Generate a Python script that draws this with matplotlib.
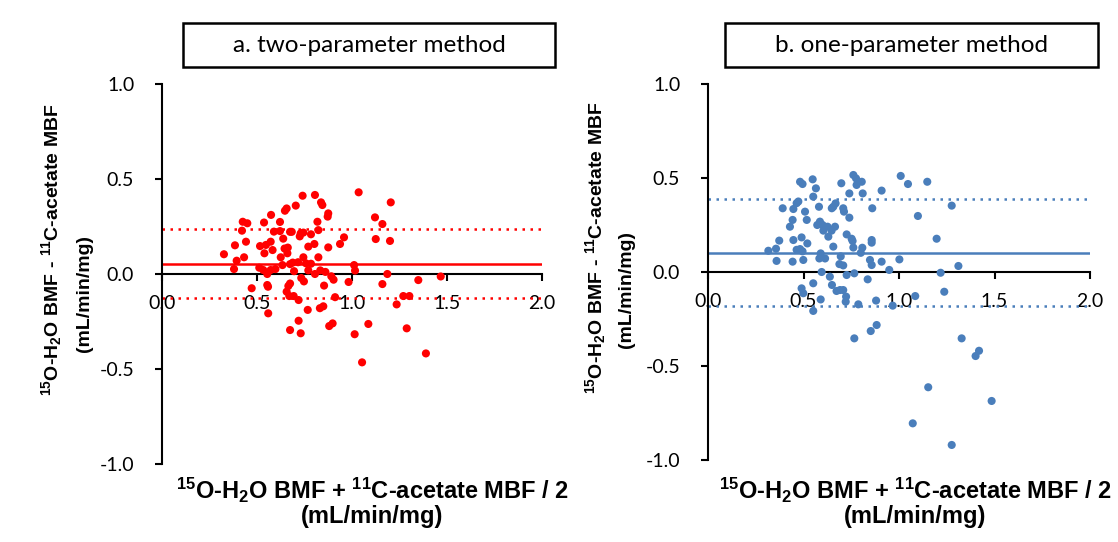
import matplotlib
matplotlib.use("Agg")
import matplotlib.pyplot as plt
from matplotlib.patches import Rectangle

plt.rcParams['mathtext.fontset'] = 'custom'
plt.rcParams['mathtext.rm'] = 'Liberation Sans:bold'
plt.rcParams['mathtext.bf'] = 'Liberation Sans:bold'
plt.rcParams['mathtext.it'] = 'Liberation Sans:bold'
plt.rcParams['mathtext.default'] = 'bf'

# ---------------- data ----------------
titles = ["a. two-parameter method", "b. one-parameter method"]
x_ticks = [0.0, 0.5, 1.0, 1.5, 2.0]
y_ticks = [-1.0, -0.5, 0.0, 0.5, 1.0]

a_x = [0.326, 0.384, 0.393, 0.379, 0.425, 0.449, 0.421, 0.442, 0.432, 0.472,
       0.537, 0.574, 0.516, 0.547, 0.539, 0.572, 0.582, 0.589, 0.621, 0.647,
       0.656, 0.704, 0.740, 0.805, 0.837, 0.844, 0.875, 0.872, 0.818, 0.823,
       0.621, 0.638, 0.674, 0.683, 0.730, 0.744, 0.784, 0.725, 0.802, 0.770,
       0.645, 0.662, 0.660, 0.625, 0.634, 0.597, 0.572, 0.512, 0.533, 0.554,
       0.554, 0.558, 0.559, 0.674, 0.688, 0.695, 0.716, 0.744, 0.758, 0.784,
       0.823, 0.875, 0.770, 0.805, 0.833, 0.860, 0.891, 0.903, 0.853, 0.674,
       0.665, 0.656, 0.670, 0.693, 0.719, 0.733, 0.747, 0.767, 0.831, 0.849,
       0.911, 0.719, 0.674, 0.730, 0.880, 0.898, 0.937, 0.958, 0.982, 1.011,
       1.016, 1.035, 1.014, 1.053, 1.086, 1.121, 1.160, 1.125, 1.200, 1.204,
       1.186, 1.160, 1.235, 1.270, 1.302, 1.288, 1.349, 1.389, 1.467]
a_y = [0.104, 0.151, 0.070, 0.026, 0.275, 0.267, 0.228, 0.170, 0.088, -0.075,
       0.271, 0.311, 0.147, 0.153, 0.109, 0.170, 0.126, 0.223, 0.274, 0.333,
       0.345, 0.360, 0.412, 0.416, 0.377, 0.363, 0.319, 0.302, 0.275, 0.231,
       0.226, 0.186, 0.222, 0.222, 0.214, 0.218, 0.209, 0.198, 0.158, 0.144,
       0.134, 0.139, 0.109, 0.088, 0.047, 0.026, 0.021, 0.033, 0.021, 0.000,
       -0.058, -0.067, -0.207, 0.052, 0.060, 0.015, 0.062, 0.088, 0.056, 0.054,
       0.088, 0.140, 0.019, 0.000, 0.019, 0.011, -0.012, -0.030, -0.061, -0.050,
       -0.063, -0.093, -0.116, -0.116, -0.137, -0.021, -0.039, -0.189, -0.180, -0.170,
       -0.122, -0.246, -0.295, -0.312, -0.274, -0.260, 0.158, 0.193, -0.042, 0.047,
       0.018, 0.430, -0.317, -0.465, -0.263, 0.298, 0.263, 0.184, 0.174, 0.377,
       0.000, -0.053, -0.160, -0.116, -0.116, -0.286, -0.032, -0.418, -0.013]

b_x = [0.316, 0.356, 0.359, 0.373, 0.391, 0.447, 0.464, 0.473, 0.443, 0.429,
       0.447, 0.443, 0.464, 0.482, 0.495, 0.490, 0.520, 0.499, 0.482, 0.495,
       0.548, 0.565, 0.551, 0.508, 0.517, 0.581, 0.586, 0.572, 0.600, 0.604,
       0.630, 0.626, 0.647, 0.665, 0.648, 0.656, 0.668, 0.708, 0.712, 0.698,
       0.740, 0.740, 0.761, 0.775, 0.778, 0.805, 0.810, 0.860, 0.909, 0.726,
       0.752, 0.757, 0.761, 0.800, 0.808, 0.857, 0.857, 0.848, 0.857, 0.909,
       0.949, 1.002, 1.009, 1.047, 1.099, 1.148, 1.197, 1.218, 1.237, 1.276,
       1.311, 1.085, 0.590, 0.583, 0.613, 0.595, 0.638, 0.656, 0.695, 0.688,
       0.708, 0.726, 0.766, 0.836, 0.649, 0.673, 0.691, 0.708, 0.723, 0.721,
       0.787, 0.880, 0.967, 0.490, 0.499, 0.551, 0.590, 0.551, 0.852, 0.883,
       0.766, 1.328, 1.419, 1.401, 1.153, 1.485, 1.072, 1.276]
b_y = [0.113, 0.124, 0.059, 0.167, 0.339, 0.335, 0.366, 0.375, 0.277, 0.241,
       0.170, 0.055, 0.118, 0.122, 0.110, 0.184, 0.152, 0.064, 0.480, 0.468,
       0.493, 0.445, 0.401, 0.321, 0.277, 0.347, 0.268, 0.250, 0.250, 0.220,
       0.188, 0.241, 0.220, 0.241, 0.339, 0.347, 0.365, 0.339, 0.321, 0.472,
       0.289, 0.418, 0.516, 0.498, 0.463, 0.480, 0.418, 0.339, 0.433, 0.200,
       0.177, 0.165, 0.130, 0.102, 0.129, 0.170, 0.156, 0.064, 0.037, 0.055,
       0.011, 0.067, 0.511, 0.468, 0.298, 0.480, 0.177, -0.004, -0.105, 0.353,
       0.032, -0.128, 0.099, 0.072, 0.072, 0.000, -0.025, 0.135, 0.083, 0.042,
       0.035, -0.016, -0.007, -0.039, -0.069, -0.101, -0.096, -0.096, -0.131, -0.158,
       -0.172, -0.152, -0.179, -0.087, -0.113, -0.060, -0.146, -0.207, -0.314, -0.282,
       -0.353, -0.353, -0.419, -0.447, -0.613, -0.686, -0.805, -0.920]

a_mean, a_upper, a_lower = 0.051, 0.235, -0.128
b_mean, b_upper, b_lower = 0.103, 0.387, -0.179

colors = ['#FF0000', '#4A7EBB']

# ---------------- figure ----------------
W, H = 1118, 542
fig = plt.figure(figsize=(W / 100, H / 100), dpi=100)

def fx(px):
    return px / W

def fy(py):
    return (H - py) / H

axes_rects = [
    [fx(162), fy(464), fx(542) - fx(162), fy(84) - fy(464)],
    [fx(708), fy(460), fx(1090) - fx(708), fy(84) - fy(460)],
]
title_boxes = [(183, 23, 555, 67), (725, 23, 1098, 67)]
xlabel_centers = [372, 915]
ylab1_x = [52, 596]
ylab1_y = [250, 248]
ylab2_x = [84, 626]
ylab2_y = [294, 290]

datasets = [(a_x, a_y, a_mean, a_upper, a_lower),
            (b_x, b_y, b_mean, b_upper, b_lower)]

tick_font = 'Lato'
xlab_line1 = r"$^{15}$O-H$_{2}$O BMF + $^{11}$C-acetate MBF / 2"
xlab_line2 = "(mL/min/mg)"
ylab1_text = r"$^{15}$O-H$_{2}$O BMF - $^{11}$C-acetate MBF"
ylab2_text = "(mL/min/mg)"

for i in range(2):
    ax = fig.add_axes(axes_rects[i])
    xs, ys, mean, up, lo = datasets[i]
    c = colors[i]
    ax.set_xlim(0, 2.0)
    ax.set_ylim(-1.0, 1.0)
    ax.axhline(mean, color=c, lw=1.8, zorder=2)
    ax.axhline(up, color=c, lw=1.8, ls=(0, (1, 2.2)), zorder=2)
    ax.axhline(lo, color=c, lw=1.8, ls=(0, (1, 2.2)), zorder=2)
    ax.scatter(xs, ys, s=34, color=c, edgecolors='none', zorder=3)

    for s in ['top', 'right']:
        ax.spines[s].set_visible(False)
    ax.spines['bottom'].set_position(('data', 0.0))
    ax.spines['left'].set_linewidth(1.5)
    ax.spines['bottom'].set_linewidth(1.5)
    ax.spines['bottom'].set_zorder(2.5)
    ax.set_xticks(x_ticks)
    ax.set_yticks(y_ticks)
    ax.set_xticklabels([f"{v:.1f}" for v in x_ticks], fontfamily=tick_font, fontsize=14)
    ax.set_yticklabels([f"{v:.1f}" for v in y_ticks], fontfamily=tick_font, fontsize=14)
    ax.tick_params(axis='both', direction='out', length=5, width=1.5, colors='black')
    ax.tick_params(axis='y', pad=15)
    ax.tick_params(axis='x', pad=10)
    ax.patch.set_alpha(0)

    # title box
    x0, y0, x1, y1 = title_boxes[i]
    rect = Rectangle((fx(x0), fy(y1)), fx(x1) - fx(x0), fy(y0) - fy(y1),
                     transform=fig.transFigure, fill=False, edgecolor='black', lw=1.8)
    fig.patches.append(rect)
    fig.text(fx((x0 + x1) / 2), fy((y0 + y1) / 2 + 1), titles[i], ha='center', va='center',
             fontfamily=tick_font, fontsize=17.5)

    # x label (two lines)
    fig.text(fx(xlabel_centers[i]), fy(490), xlab_line1, ha='center', va='center',
             fontfamily='Liberation Sans', fontweight='bold', fontsize=17)
    fig.text(fx(xlabel_centers[i]), fy(516), xlab_line2, ha='center', va='center',
             fontfamily='Liberation Sans', fontweight='bold', fontsize=17)
    # y label
    fig.text(fx(ylab1_x[i]), fy(ylab1_y[i]), ylab1_text, ha='center', va='center',
             rotation=90, fontfamily='Liberation Sans', fontweight='bold', fontsize=14)
    fig.text(fx(ylab2_x[i]), fy(ylab2_y[i]), ylab2_text, ha='center', va='center',
             rotation=90, fontfamily='Liberation Sans', fontweight='bold', fontsize=14)

fig.savefig("out.png", dpi=100)
